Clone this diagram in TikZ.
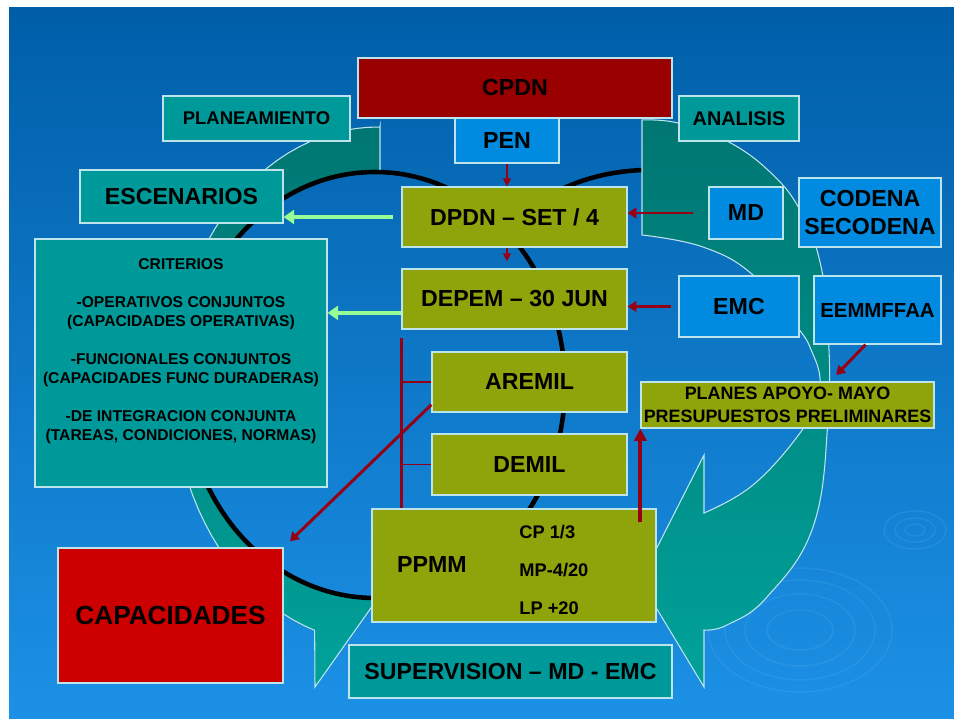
\documentclass[tikz,border=0pt]{standalone}
\usepackage{fontspec}
\setmainfont{Liberation Sans}
\usetikzlibrary{math}
\usetikzlibrary{arrows.meta}

\definecolor{slidetop}{RGB}{0,94,168}
\definecolor{slidebottom}{RGB}{28,145,230}
\definecolor{cpdnred}{RGB}{153,0,0}
\definecolor{capred}{RGB}{204,0,0}
\definecolor{orgblue}{RGB}{0,138,224}
\definecolor{phaseteal}{RGB}{0,153,153}
\definecolor{docolive}{RGB}{143,163,10}
\definecolor{rimcol}{RGB}{190,228,235}
\definecolor{cycledark}{RGB}{0,118,114}
\definecolor{cyclelight}{RGB}{0,162,154}
\definecolor{flowred}{RGB}{150,0,20}
\definecolor{feedgreen}{RGB}{150,255,150}
\definecolor{ripple}{RGB}{110,185,245}

\tikzset{
  box/.style={draw=rimcol, line width=0.7pt, inner sep=0pt, text=black},
  wh/.style 2 args={minimum width=#1*0.02cm, minimum height=#2*0.02cm},
  bigtext/.style={font=\fontsize{13.2}{16.4}\selectfont\bfseries},
  midtext/.style={font=\fontsize{11.3}{13}\selectfont\bfseries},
  smalltext/.style={font=\fontsize{10.4}{13}\selectfont\bfseries},
  listtext/.style={font=\fontsize{8.9}{10.8}\selectfont\bfseries},
  cyclearrow/.style={top color=cycledark, bottom color=cyclelight, draw=rimcol, line width=0.6pt},
  ripplering/.style={draw=ripple, opacity=0.17, line width=0.8pt},
  greenarrow/.style={draw=feedgreen, line width=2pt, -{Triangle[length=6pt, width=8pt]}},
  redarrow/.style={draw=flowred, line width=1.7pt, -{Triangle[length=5pt, width=6pt]}},
  thinarrow/.style={draw=flowred, line width=0.8pt, -{Triangle[length=4.5pt, width=4.5pt]}},
  bigredarrow/.style={draw=flowred, line width=2.3pt, -{Triangle[length=7pt, width=7pt]}},
}

\begin{document}
\begin{tikzpicture}[x=0.02cm, y=-0.02cm]

\tikzmath{
\lcx = 375;
\lcy = 385;
\lrx = 190;
\lry = 213;
\ocx = 378;
\ocy = 385;
\orx = 205;
\ory = 258;
}

\useasboundingbox (0,0) rectangle (954,719);
\fill[white] (0,0) rectangle (954,719);
\shade[top color=slidetop, bottom color=slidebottom] (9,8) rectangle (954,719);

%ripples
\draw[ripplering] (915,530) ellipse [x radius=10, y radius=6];
\draw[ripplering] (915,530) ellipse [x radius=20, y radius=12];
\draw[ripplering] (915,530) ellipse [x radius=31, y radius=19];
\draw[ripplering] (800,630) ellipse [x radius=33, y radius=20];
\draw[ripplering] (800,630) ellipse [x radius=55, y radius=36];
\draw[ripplering] (800,630) ellipse [x radius=75, y radius=50];
\draw[ripplering] (800,630) ellipse [x radius=92, y radius=62];

%left cycle arrow
\path[cyclearrow] (380,172) -- (380,126)
  -- plot[domain=89.5:252, samples=50] ({\ocx+\orx*cos(\x)},{\ocy-\ory*sin(\x)})
  -- (315,687) -- (378,598)
  -- plot[domain=271:88.5, samples=60] ({\lcx+\lrx*cos(\x)},{\lcy-\lry*sin(\x)})
  -- cycle;

%black ring
\draw[black, line width=2.6pt] (\lcx,\lcy) ellipse [x radius=\lrx, y radius=\lry];
\draw[black, line width=2.6pt] (548,196) .. controls (585,176) and (620,168) .. (672,170);

%right cycle arrow
\path[cyclearrow] (642,235) -- (642,120)
  -- plot[smooth, tension=0.7] coordinates {(642,120) (678,123) (727,141) (770,172) (800,210) (820,262) (828,330) (828,420) (813,527) (767,597) (727,625) (704,630)}
  -- (704,687) -- (640,581) -- (704,455) -- (704,513)
  -- plot[smooth, tension=0.7] coordinates {(704,513) (753,485) (800,433) (816,400) (820,378) (812,352) (798,328) (753,275) (703,247) (642,235)}
  -- cycle;

%boxes
\node[box, fill=cpdnred, wh={314}{60}, bigtext] (cpdn) at (515,88) {CPDN};
\node[box, fill=orgblue, wh={104}{45}, bigtext] (pen) at (507,140.5) {PEN};
\node[box, fill=phaseteal, wh={187}{45}, font=\fontsize{10.5}{13}\selectfont\bfseries] (planeamiento) at (256.5,118.5) {PLANEAMIENTO};
\node[box, fill=phaseteal, wh={120}{45}, midtext] (analisis) at (739,118.5) {ANALISIS};
\node[box, fill=phaseteal, wh={203}{53}, bigtext] (escenarios) at (181.5,196.5) {ESCENARIOS};
\node[box, fill=docolive, wh={225}{60}, bigtext] (dpdn) at (514.5,217) {DPDN -- SET / 4};
\node[box, fill=docolive, wh={225}{60}, bigtext] (depem) at (514.5,299) {DEPEM -- 30 JUN};
\node[box, fill=orgblue, wh={74}{52}, bigtext] (md) at (746,213) {MD};
\node[box, fill=orgblue, wh={142}{69}, bigtext, align=center] (codena) at (870,212.5) {CODENA\\SECODENA};
\node[box, fill=orgblue, wh={120}{61}, bigtext] (emc) at (739,306.5) {EMC};
\node[box, fill=orgblue, wh={127}{68}, font=\fontsize{11.6}{13}\selectfont\bfseries] (eemmffaa) at (877.5,310) {EEMMFFAA};
\node[box, fill=phaseteal, wh={292}{248}] (criterios) at (181,363) {};
\node[listtext, inner sep=0pt, align=center, anchor=north] (critxt) at (181,258) {CRITERIOS\\[10.8pt]
-OPERATIVOS CONJUNTOS\\(CAPACIDADES OPERATIVAS)\\[10.8pt]
-FUNCIONALES CONJUNTOS\\(CAPACIDADES FUNC DURADERAS)\\[10.8pt]
-DE INTEGRACION CONJUNTA\\(TAREAS, CONDICIONES, NORMAS)};
\node[box, fill=docolive, wh={195}{60}, bigtext] (aremil) at (529.5,382) {AREMIL};
\node[box, fill=docolive, wh={195}{61}, bigtext] (demil) at (529.5,464.5) {DEMIL};
\node[box, fill=docolive, wh={284}{113}] (ppmm) at (514,565.5) {};
\node[bigtext, inner sep=0pt, anchor=base] (ppmmtxt) at (432,573) {PPMM};
\node[smalltext, inner sep=0pt, anchor=base west] (cp) at (519,539) {CP 1/3};
\node[smalltext, inner sep=0pt, anchor=base west] (mp) at (519,577) {MP-4/20};
\node[smalltext, inner sep=0pt, anchor=base west] (lp) at (519,615) {LP +20};
\node[box, fill=capred, wh={225}{135}, font=\fontsize{14.9}{17}\selectfont\bfseries] (capacidades) at (170.5,615.5) {CAPACIDADES};
\node[box, fill=phaseteal, wh={323}{53}, bigtext] (supervision) at (510.5,671.5) {SUPERVISION -- MD - EMC};
\node[box, fill=docolive, wh={293}{46}, font=\fontsize{10.2}{13}\selectfont\bfseries, align=center] (planes) at (787.5,405) {PLANES APOYO- MAYO\\PRESUPUESTOS PRELIMINARES};

%feedback
\draw[greenarrow, shorten <=4.5pt] (dpdn.west) -- (dpdn.west -| escenarios.east);
\draw[greenarrow] (depem.187) -- (depem.187 -| criterios.east);

%flow
\draw[thinarrow] (pen.south) -- (pen.south |- dpdn.north);
\draw[thinarrow, shorten >=4pt] (dpdn.south -| pen.south) -- (depem.north -| pen.south);
\draw[redarrow, shorten <=8.5pt] (md.west) -- (md.west -| dpdn.east);
\draw[redarrow, shorten <=4pt] (emc.west) -- (emc.west -| depem.east);
\draw[redarrow, shorten >=5pt] (eemmffaa.251) -- (planes.29);
\draw[bigredarrow, shorten <=-8pt] (ppmm.north -| planes.south west) -- (planes.south west);
\draw[redarrow, shorten >=5pt] (aremil.193) -- (capacidades.north east);

%bracket
\draw[flowred, line width=1.7pt] (depem.south west) ++(0,8) -- (ppmm.north -| depem.south west);
\draw[flowred, line width=0.8pt] (aremil.west -| depem.west) -- (aremil.west);
\draw[flowred, line width=0.8pt] (demil.west -| depem.west) -- (demil.west);

\end{tikzpicture}
\end{document}
